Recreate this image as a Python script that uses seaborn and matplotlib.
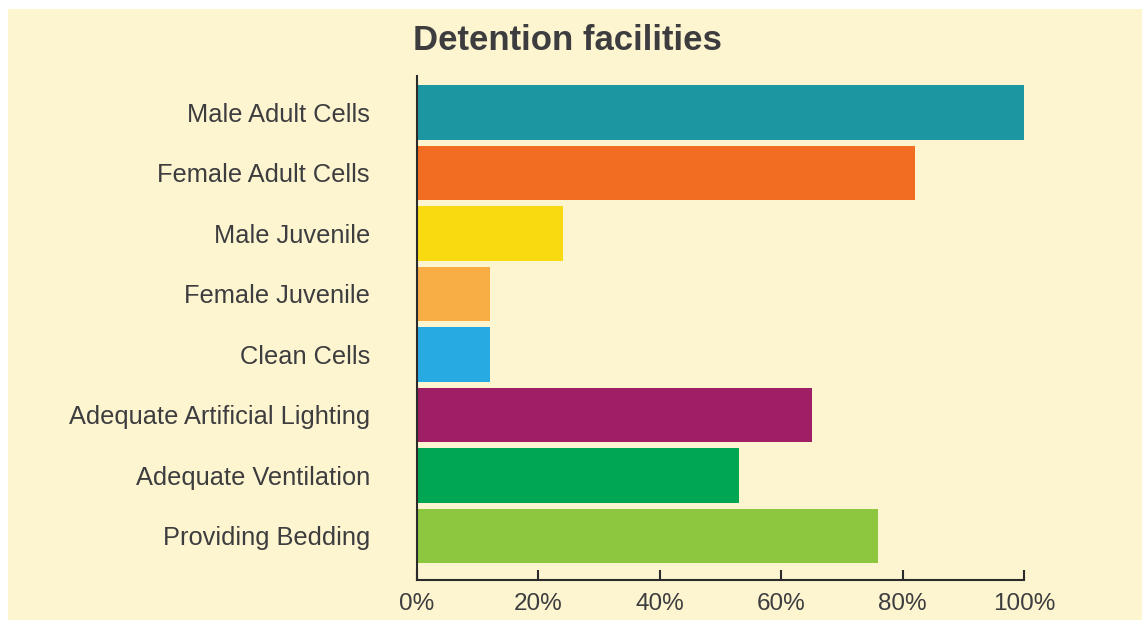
import matplotlib
matplotlib.use("Agg")
import matplotlib.pyplot as plt
from matplotlib.patches import Rectangle
from matplotlib.ticker import FuncFormatter
import seaborn as sns
import pandas as pd

categories = ["Male Adult Cells", "Female Adult Cells", "Male Juvenile", "Female Juvenile",
              "Clean Cells", "Adequate Artificial Lighting", "Adequate Ventilation",
              "Providing Bedding"]
values = [100, 82, 24, 12, 12, 65, 53, 76]
colors = ["#1C97A1", "#F26C22", "#F9DA11", "#F8AE44", "#27A9E1", "#9E1F63", "#00A651", "#8DC63F"]
xticks = [0, 20, 40, 60, 80, 100]
title = "Detention facilities"

sns.set_theme(style="white")
plt.rcParams['font.family'] = ['Liberation Sans', 'DejaVu Sans']

bg = "#FDF5D0"
txt = "#3d3d3f"

fig = plt.figure(figsize=(11.42, 6.2), dpi=100)
fig.patch.set_facecolor("white")
fig.patches.append(Rectangle((8/1142, -0.1), 1.2, 1.1 - 9/620, transform=fig.transFigure,
                             facecolor=bg, edgecolor="none", zorder=-10))

ax = fig.add_axes([417/1142, 1 - 580/620, (1024-417)/1142, (580-76)/620])
ax.set_facecolor("none")

df = pd.DataFrame({"cat": categories, "val": values})
sns.barplot(data=df, x="val", y="cat", hue="cat", palette=colors, legend=False,
            width=0.9, saturation=1, ax=ax, order=categories, hue_order=categories,
            linewidth=0, edgecolor="none")

ax.set_xlim(0, 100)
ax.set_ylim(7.73, -0.6)
ax.set_xticks(xticks)
ax.xaxis.set_major_formatter(FuncFormatter(lambda v, p: f"{int(v)}%"))
ax.set_xlabel("")
ax.set_ylabel("")

for s in ["top", "right"]:
    ax.spines[s].set_visible(False)
for s in ["left", "bottom"]:
    ax.spines[s].set_visible(True)
    ax.spines[s].set_color("#2b2b2b")
    ax.spines[s].set_linewidth(1.5)

ax.tick_params(axis="x", direction="in", length=7, width=1.5, color="#2b2b2b",
               labelsize=17.5, labelcolor=txt, pad=9, bottom=True)
ax.tick_params(axis="y", length=0, labelsize=18.3, labelcolor=txt, pad=34)

fig.text(413/1142, 1 - 41/620, title, fontsize=25, fontweight="bold", color=txt,
         ha="left", va="center")

fig.savefig("out.png", dpi=100, facecolor=fig.get_facecolor())
